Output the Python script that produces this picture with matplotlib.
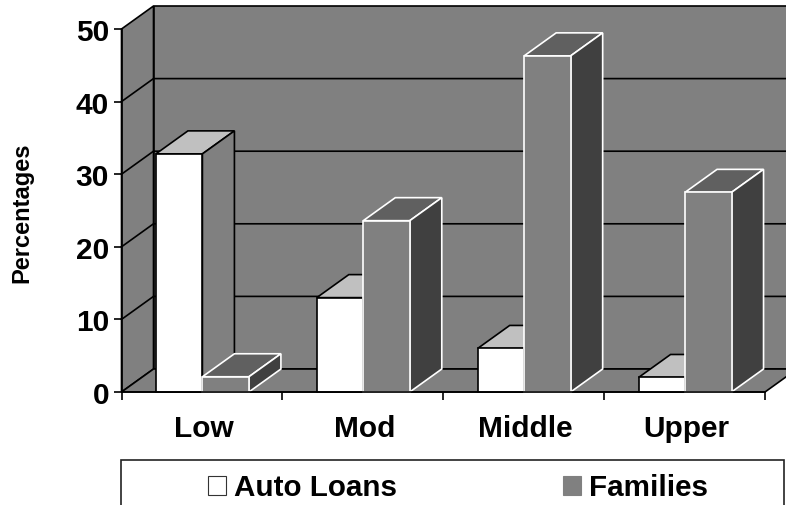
import matplotlib
matplotlib.use("Agg")
import matplotlib.pyplot as plt
from matplotlib.patches import Polygon, Rectangle

plt.rcParams["font.family"] = ["Liberation Sans", "DejaVu Sans"]
plt.rcParams["font.weight"] = "bold"

categories = ["Low", "Mod", "Middle", "Upper"]
auto_loans = [32.8, 13.0, 6.0, 2.0]
families = [2.1, 23.6, 46.3, 27.5]
y_ticks = [0, 10, 20, 30, 40, 50]

W, H = 786, 506
LEFT, RIGHT, BOTTOM, TOP = 121.5, 765, 393, 30
DX = 32 / ((RIGHT - LEFT) / 4)   # depth offset in category units
DY = 23 / ((BOTTOM - TOP) / 50)  # depth offset in value units
BAR_START, BAR_W = 0.214, 0.289

AUTO = {"front": "#ffffff", "top": "#c0c0c0", "side": "#808080", "edge": "#000000"}
FAM = {"front": "#808080", "top": "#606060", "side": "#404040", "edge": "#ffffff"}


def poly(ax, pts, fc, ec, z, lw=1.2):
    ax.add_patch(Polygon(pts, closed=True, facecolor=fc, edgecolor=ec, lw=lw,
                         zorder=z, clip_on=False, joinstyle="miter"))


def bar3d(ax, x, v, st, z):
    w = BAR_W
    poly(ax, [(x, v), (x + DX, v + DY), (x + w + DX, v + DY), (x + w, v)], st["top"], st["edge"], z)
    poly(ax, [(x + w, 0), (x + w + DX, DY), (x + w + DX, v + DY), (x + w, v)], st["side"], st["edge"], z)
    poly(ax, [(x, 0), (x + w, 0), (x + w, v), (x, v)], st["front"], st["edge"], z)


fig = plt.figure(figsize=(W / 100, H / 100), dpi=100, facecolor="white")
ax = fig.add_axes([LEFT / W, 1 - BOTTOM / H, (RIGHT - LEFT) / W, (BOTTOM - TOP) / H])
ax.set_xlim(0, 4)
ax.set_ylim(0, 50)
ax.patch.set_visible(False)

# walls and floor
poly(ax, [(0, 0), (DX, DY), (DX, 50 + DY), (0, 50)], "#808080", "#000000", 1)
poly(ax, [(DX, DY), (4.3, DY), (4.3, 50 + DY), (DX, 50 + DY)], "#808080", "#000000", 1)
poly(ax, [(0, 0), (4, 0), (4 + DX, DY), (4.3, DY), (DX, DY)], "#808080", "#000000", 1)

# gridlines run up the side wall, then along the back
for t in y_ticks[1:-1]:
    ax.plot([0, DX, 4.3], [t, t + DY, t + DY], color="#000000", lw=1.2, zorder=2, clip_on=False)

z = 3
for i in range(len(categories)):
    bar3d(ax, i + BAR_START, auto_loans[i], AUTO, z)
    bar3d(ax, i + BAR_START + BAR_W, families[i], FAM, z + 1)
    z += 2

for sp in ("top", "right"):
    ax.spines[sp].set_visible(False)
for sp in ("left", "bottom"):
    ax.spines[sp].set_linewidth(1.2)
    ax.spines[sp].set_zorder(20)

ax.set_yticks(y_ticks)
ax.tick_params(axis="y", length=6, width=1.2, pad=3, labelsize=21.5)
ax.set_xticks(range(5), [""] * 5)
ax.set_xticks([i + 0.51 for i in range(4)], categories, minor=True)
ax.tick_params(axis="x", which="major", length=6, width=1.2)
ax.tick_params(axis="x", which="minor", length=0, pad=16, labelsize=21.5)

fig.text(22 / W, 1 - 213 / H, "Percentages", rotation=90, ha="center", va="center", fontsize=17)

# legend box runs off the bottom of the figure
fig.add_artist(Rectangle((121 / W, -0.05), (784 - 121) / W, 1 - 461 / H + 0.05,
                         transform=fig.transFigure, facecolor="white",
                         edgecolor="#222222", lw=1.2))
handles = [Rectangle((0, 0), 1, 1, facecolor="#ffffff", edgecolor="#333333", lw=0.8),
           Rectangle((0, 0), 1, 1, facecolor="#808080", edgecolor="#808080", lw=0.8)]
fig.legend(handles, ["Auto Loans", "Families"], ncol=2, frameon=False, fontsize=21.3,
           loc="center left", bbox_to_anchor=(208 / W, 1 - 488.5 / H), borderaxespad=0,
           borderpad=0, handlelength=0.62, handleheight=0.62, handletextpad=0.27,
           columnspacing=5.6)

fig.savefig("out.png", dpi=100, facecolor="white")
